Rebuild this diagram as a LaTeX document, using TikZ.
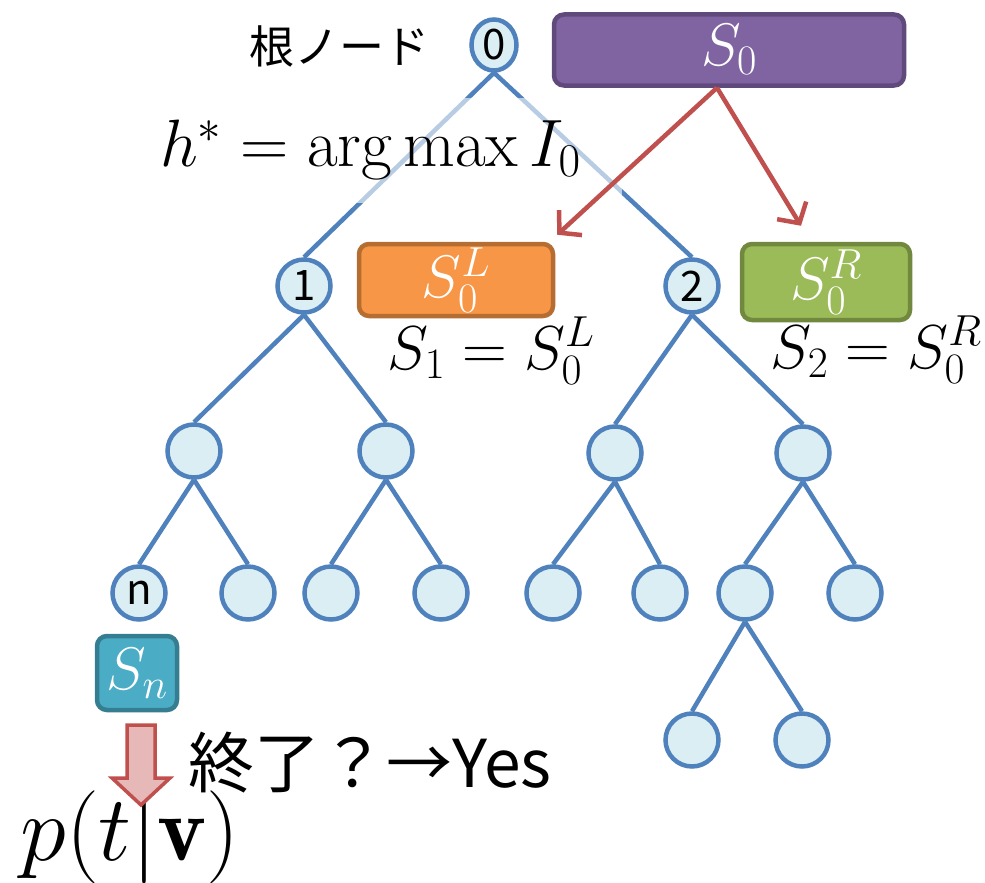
\RequirePackage{fix-cm}
\documentclass[tikz,border=0pt]{standalone}
\usepackage{fontspec}
\newfontfamily\jpfont{Noto Sans CJK JP}
\usetikzlibrary{positioning, shapes.geometric, arrows.meta}
\definecolor{treeblue}{HTML}{4F81BD}
\definecolor{nodefill}{HTML}{DBEEF4}
\definecolor{purplefill}{HTML}{8064A2}
\definecolor{purpleline}{HTML}{5F4A7B}
\definecolor{orangefill}{HTML}{F79646}
\definecolor{orangeline}{HTML}{B66D31}
\definecolor{greenfill}{HTML}{9BBB59}
\definecolor{greenline}{HTML}{71893F}
\definecolor{tealfill}{HTML}{4BACC6}
\definecolor{tealline}{HTML}{357D91}
\definecolor{arrowred}{HTML}{C0504D}
\definecolor{arrowpink}{HTML}{E6B9B8}
\tikzset{every picture/.style={line width=4.5pt}}

\begin{document}
\begin{tikzpicture}[x=1pt, y=-1pt,
    tnode/.style={circle, draw=treeblue, fill=nodefill, minimum size=53pt, inner sep=0pt,
        font=\jpfont\fontsize{42}{42}\selectfont},
    setbox/.style={rounded corners=10pt, inner sep=0pt, text=white,
        font=\fontsize{60}{60}\selectfont},
    mathlabel/.style={inner sep=0pt, font=\fontsize{62}{62}\selectfont},
    edge/.style={draw=treeblue, line width=4.5pt},
    split/.style={draw=arrowred, line width=4.5pt, -{Straight Barb[length=15pt, width=34pt]}}]
    \useasboundingbox (0,0) rectangle (985,883);
    % tree
    \node[tnode, ellipse, minimum width=45pt, minimum height=51pt] (n0) at (494,45) {0};
    \node[tnode] (n1) at (304,286) {1};
    \node[tnode] (n2) at (692,286) {2};
    \node[tnode] (n11) at (194,451) {};
    \node[tnode] (n12) at (386,451) {};
    \node[tnode] (n21) at (615,453) {};
    \node[tnode] (n22) at (803,453) {};
    \node[tnode] (nn)  at (139,593) {n};
    \node[tnode] (n112) at (248,593) {};
    \node[tnode] (n121) at (331,593) {};
    \node[tnode] (n122) at (441,593) {};
    \node[tnode] (n211) at (553,593) {};
    \node[tnode] (n212) at (660,593) {};
    \node[tnode] (n221) at (745,593) {};
    \node[tnode] (n222) at (855,593) {};
    \node[tnode] (n2211) at (692,740) {};
    \node[tnode] (n2212) at (802,740) {};
    \foreach \p/\c in {n0/n1, n0/n2, n1/n11, n1/n12, n2/n21, n2/n22,
        n11/nn, n11/n112, n12/n121, n12/n122, n21/n211, n21/n212,
        n22/n221, n22/n222, n221/n2211, n221/n2212}
        \draw[edge] (\p.south) -- (\c.north);
    % labels
    \node[inner sep=0pt, font=\jpfont\fontsize{45}{45}\selectfont] (root) at (339,46) {根ノード};
    \node[fill=white, fill opacity=0.6, text opacity=1, minimum height=105pt,
        text width=452pt, inner xsep=10pt, inner ysep=0pt, align=left,
        font=\fontsize{67}{67}\selectfont] (hstar) at (386,150) {$h^{*}=\arg\max I_0$};
    % splits
    \node[setbox, fill=purplefill, draw=purpleline, minimum width=350pt, minimum height=71pt] (s0) at (729,50) {$S_0$};
    \node[setbox, fill=orangefill, draw=orangeline, minimum width=194pt, minimum height=72pt] (sL) at (456,280) {$S_0^L$};
    \node[setbox, fill=greenfill, draw=greenline, minimum width=168pt, minimum height=76pt] (sR) at (826,282) {$S_0^R$};
    \draw[split] ([xshift=-12pt]s0.south) -- ([xshift=2pt, yshift=7pt]sL.north east);
    \draw[split] ([xshift=-12pt]s0.south) -- ([xshift=-25pt, yshift=16pt]sR.north);
    \node[mathlabel, anchor=base] (eqL) at (491,369) {$S_1=S_0^L$};
    \node[mathlabel, anchor=base] (eqR) at (876,368) {$S_2=S_0^R$};
    % leaf
    \node[setbox, fill=tealfill, draw=tealline, minimum width=80pt, minimum height=74pt] (sn) at (137,673) {$S_n$};
    \node[inner sep=0pt, anchor=west, font=\jpfont\fontsize{66}{66}\selectfont] (stop) at (186,763) {終了？→Yes};
    \node[inner sep=0pt, font=\fontsize{93}{93}\selectfont] (pt) at (130,837) {$p(t|\mathbf{v})$};
    \draw[draw=arrowred, fill=arrowpink, line width=3.5pt]
        (127,725) -- (155,725) -- (155,778) -- (170,778) -- (141,805)
        -- (112,778) -- (127,778) -- cycle;
\end{tikzpicture}
\end{document}
